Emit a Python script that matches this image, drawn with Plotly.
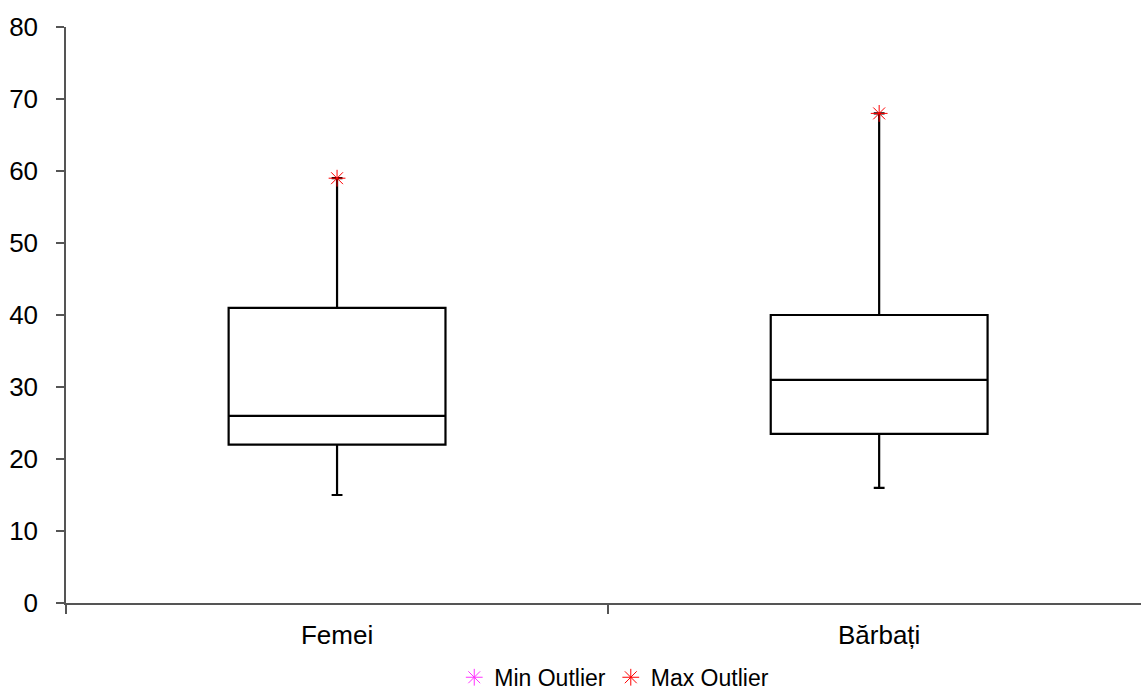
import plotly.graph_objects as go

categories = ["Femei", "Bărbați"]
mins = [15, 16]
q1s = [22, 23.5]
medians = [26, 31]
q3s = [41, 40]
maxs = [59, 68]
max_outliers = [59, 68]
y_ticks = [0, 10, 20, 30, 40, 50, 60, 70, 80]

fig = go.Figure()
fig.add_trace(go.Box(
    x=categories, q1=q1s, median=medians, q3=q3s,
    lowerfence=mins, upperfence=maxs,
    width=0.4, whiskerwidth=0.05,
    fillcolor="white", line=dict(color="black", width=2.2),
    showlegend=False, hoverinfo="skip", boxpoints=False,
))
fig.add_trace(go.Scatter(
    x=[None], y=[None], mode="markers", name="Min Outlier",
    marker=dict(symbol="asterisk-open", size=14, color="#FF33FF",
                line=dict(color="#FF33FF", width=1)),
))
fig.add_trace(go.Scatter(
    x=categories, y=max_outliers, mode="markers", name="Max Outlier",
    marker=dict(symbol="asterisk-open", size=14, color="#FF0000",
                line=dict(color="#FF2020", width=1)),
))

fig.update_layout(
    width=1141, height=695,
    margin=dict(l=66, r=0, t=27, b=92, autoexpand=False),
    plot_bgcolor="white", paper_bgcolor="white",
    font=dict(family="Liberation Sans, Arial", size=26, color="black"),
    legend=dict(orientation="h", x=0.51, xanchor="center", y=-0.129, yanchor="middle",
                font=dict(size=23), itemwidth=30, tracegroupgap=0),
    xaxis=dict(
        type="category", range=[-0.5, 1.483], tickson="boundaries",
        ticks="outside", ticklen=9, tickcolor="#555", tickwidth=1.5,
        showline=True, linecolor="#555", linewidth=1.5, showgrid=False,
        zeroline=False, tickfont=dict(size=26), ticklabelstandoff=8,
    ),
    yaxis=dict(
        range=[0, 80], tickvals=y_ticks, ticks="outside", ticklen=8,
        tickcolor="#555", tickwidth=1.5, showline=True, linecolor="#555",
        linewidth=1.5, showgrid=False, zeroline=False, ticklabelstandoff=13,
        tickfont=dict(size=26),
    ),
)

fig.write_html("out.html", config={"displayModeBar": False},
               post_script="document.body.style.margin='0';")
